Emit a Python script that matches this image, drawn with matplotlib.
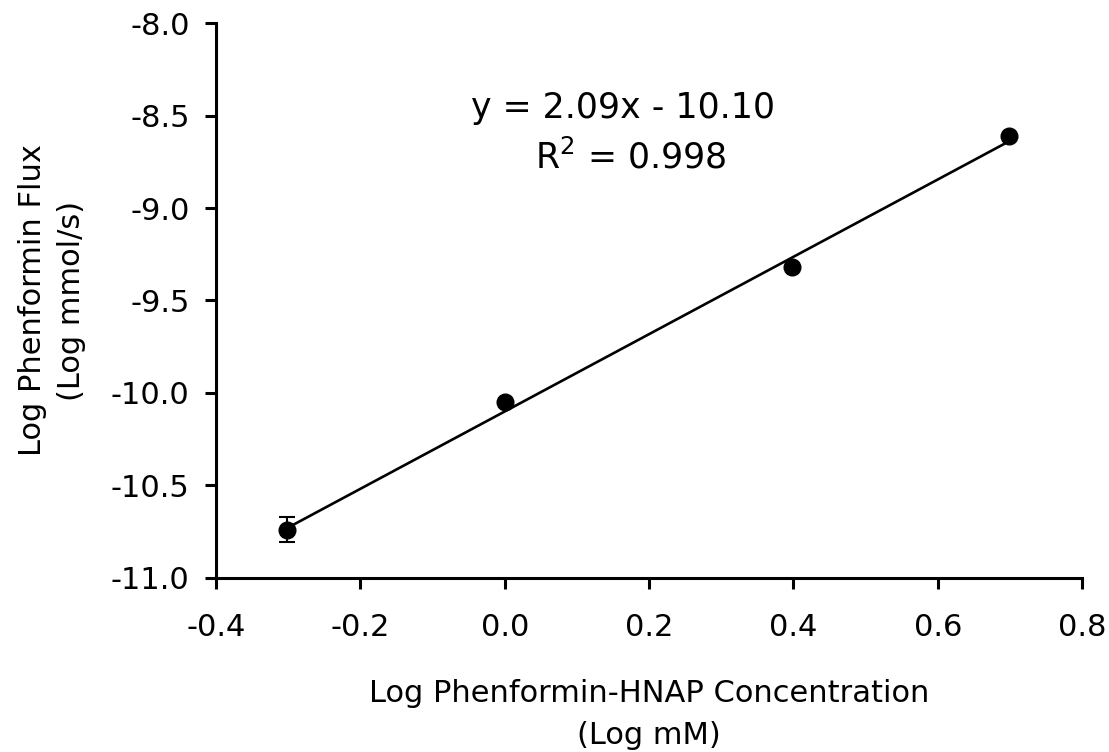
import matplotlib
matplotlib.use('Agg')
import matplotlib.pyplot as plt
import numpy as np

# 数据点（对数浓度 vs 对数通量）
log_conc = [-0.301, 0.0, 0.398, 0.699]
log_flux = [-10.74, -10.05, -9.32, -8.61]
flux_err = [0.068, 0.0, 0.0, 0.0]

# 线性拟合参数（图中标注）
slope = 2.09
intercept = -10.10
r2 = 0.998

x_ticks = [-0.4, -0.2, 0.0, 0.2, 0.4, 0.6, 0.8]
y_ticks = [-8.0, -8.5, -9.0, -9.5, -10.0, -10.5, -11.0]

plt.rcParams['font.family'] = ['DejaVu Sans']
fs = 22

fig = plt.figure(figsize=(11.09, 7.52), dpi=100)
ax = fig.add_axes([0.1948, 0.2314, 0.7809, 0.7380])

# 拟合直线
xf = np.array([log_conc[0], log_conc[-1]])
ax.plot(xf, slope * xf + intercept, color='black', lw=1.9, zorder=2)

# 数据点及误差棒
ax.errorbar(log_conc, log_flux, yerr=flux_err, fmt='o', color='black',
            ms=12, capsize=6, elinewidth=1.5, capthick=1.5, zorder=3)

# 拟合方程与R²
ax.text(0.164, -8.514, 'y = %.2fx - %.2f' % (slope, -intercept),
        ha='center', va='baseline', fontsize=25)
ax.text(0.174, -8.784, 'R$^2$ = %.3f' % r2,
        ha='center', va='baseline', fontsize=25)

ax.set_xlim(-0.4, 0.8)
ax.set_ylim(-11.0, -8.0)
ax.set_xticks(x_ticks)
ax.set_xticklabels(['%.1f' % v for v in x_ticks])
ax.set_yticks(y_ticks)
ax.set_yticklabels(['%.1f' % v for v in y_ticks])

for s in ['top', 'right']:
    ax.spines[s].set_visible(False)
for s in ['left', 'bottom']:
    ax.spines[s].set_linewidth(2.2)
ax.tick_params(direction='out', length=8, width=2.2, labelsize=fs)
ax.tick_params(axis='y', pad=11)
ax.tick_params(axis='x', pad=17)

ax.set_xlabel('Log Phenformin-HNAP Concentration\n(Log mM)', fontsize=fs, labelpad=27,
              linespacing=1.57)
ax.set_ylabel('Log Phenformin Flux\n(Log mmol/s)', fontsize=fs, labelpad=18,
              linespacing=1.45)

fig.savefig('out.png', dpi=100)
